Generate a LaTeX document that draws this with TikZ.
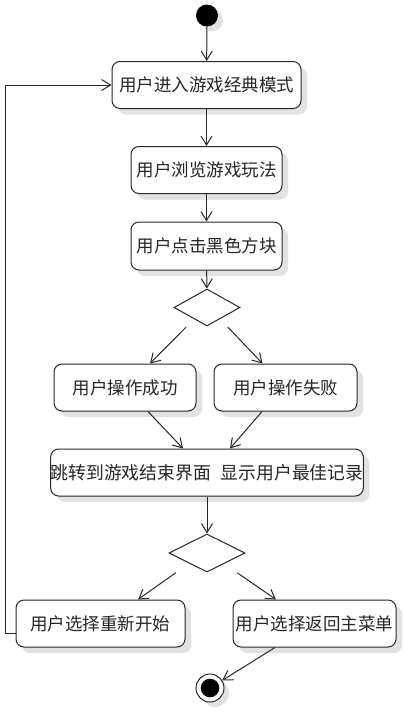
\documentclass[tikz,border=0pt]{standalone}
\usepackage{fontspec}
\newfontfamily\cjk{Noto Sans CJK SC}
\usetikzlibrary{shapes.geometric,shadows,arrows.meta}
\definecolor{lineGray}{RGB}{40,40,40}
\definecolor{shadowGray}{RGB}{226,226,226}
\tikzset{
  activity/.style={draw=lineGray,line width=1pt,rounded corners=8pt,fill=white,
    minimum height=47pt,inner sep=0pt,text=black!85,
    font=\cjk\fontsize{17.5}{20}\selectfont,
    drop shadow={shadow xshift=6pt,shadow yshift=-6pt,fill=shadowGray,opacity=1}},
  decision/.style={diamond,draw=lineGray,line width=1pt,fill=white,inner sep=0pt},
  initial/.style={circle,fill=black,minimum size=22pt,inner sep=0pt,
    drop shadow={shadow xshift=5pt,shadow yshift=-5pt,fill=shadowGray,opacity=1}},
  final/.style={circle,draw=lineGray,line width=1pt,fill=white,minimum size=28pt,inner sep=0pt,
    drop shadow={shadow xshift=5pt,shadow yshift=-5pt,fill=shadowGray,opacity=1}},
  flow/.style={draw=lineGray,line width=1pt,-{Straight Barb[length=9pt,width=11pt,line width=1pt]}}
}
\begin{document}
\begin{tikzpicture}[x=1pt,y=-1pt]
  \useasboundingbox (0,0) rectangle (404,712);
  \node[initial] (start) at (207,15.5) {};
  \node[activity,minimum width=189pt] (enter) at (206.5,85) {用户进入游戏经典模式};
  \node[activity,minimum width=151pt] (browse) at (206.5,170) {用户浏览游戏玩法};
  \node[activity,minimum width=151pt,minimum height=48pt] (click) at (206.5,246) {用户点击黑色方块};
  \node[decision,minimum width=66pt,minimum height=37pt] (judge) at (207,307.5) {};
  \node[activity,minimum width=142pt] (success) at (125,387.5) {用户操作成功};
  \node[activity,minimum width=143pt] (fail) at (285.5,387.5) {用户操作失败};
  \node[activity,minimum width=308pt,font=\cjk\fontsize{17.8}{20}\selectfont] (over) at (207,472.5) {跳转到游戏结束界面\hspace{10pt}显示用户最佳记录};
  \node[decision,minimum width=76pt,minimum height=38pt] (choose) at (207,553) {};
  \node[activity,minimum width=169pt] (again) at (100.5,623.5) {用户选择重新开始};
  \node[activity,minimum width=163pt] (menu) at (314.5,623.5) {用户选择返回主菜单};
  \node[final] (stop) at (210,688) {};
  \fill[black] (stop) circle (9.3pt);

  \draw[flow] (start) -- (enter);
  \draw[flow] (enter) -- (browse);
  \draw[flow] (browse) -- (click);
  \draw[flow] (click) -- (judge);
  \draw[flow] ([shift={(-4,10)}]judge.south west) -- ([xshift=25pt]success.north);
  \draw[flow] ([shift={(4,10)}]judge.south east) -- ([xshift=-23pt]fail.north);
  \draw[flow] ([xshift=23pt]success.south) -- ([xshift=-24pt]over.north);
  \draw[flow] ([xshift=-23.5pt]fail.south) -- ([xshift=23pt]over.north);
  \draw[flow] (over) -- (choose);
  \draw[flow] ([shift={(-12,10)}]choose.south west) -- ([xshift=37.5pt]again.north);
  \draw[flow] ([shift={(11,10)}]choose.south east) -- ([xshift=-38.5pt]menu.north);
  \draw[flow] ([xshift=-39.5pt]menu.south) -- (stop);
  \draw[flow] ([yshift=-10pt]again.west) -- ++(-10,0) |- (enter.west);
\end{tikzpicture}
\end{document}
